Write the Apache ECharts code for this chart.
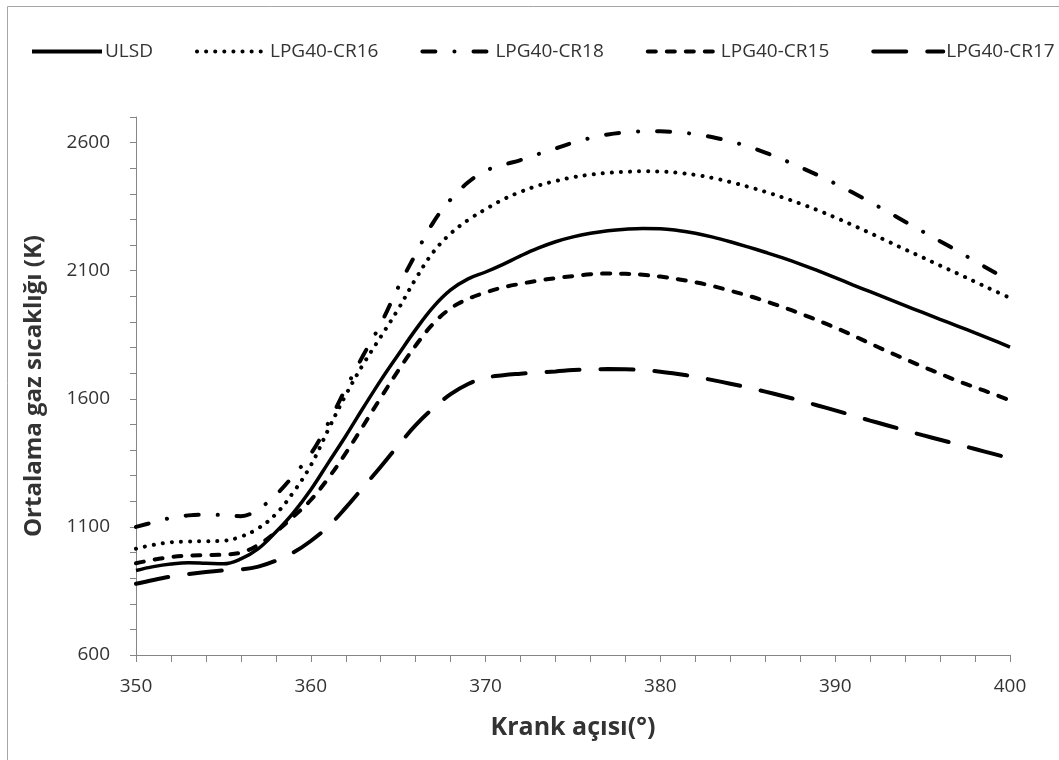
<!DOCTYPE html>
<html>
<head>
<meta charset="utf-8">
<script src="https://cdn.jsdelivr.net/npm/echarts@6/dist/echarts.min.js"></script>
<style>
  html, body { margin: 0; padding: 0; background: #ffffff; }
  #chart { width: 1059px; height: 760px; }
</style>
</head>
<body>
<div id="chart"></div>
<script>
// Crank angle (°CA) sample points
const angles = [350, 351, 352, 353, 354, 355, 356, 357, 358, 359,
                360, 361, 362, 363, 364, 365, 366, 367, 368, 369,
                370, 371, 372, 373, 374, 375, 376, 377, 378, 379,
                380, 381, 382, 383, 384, 385, 386, 387, 388, 389,
                390, 391, 392, 393, 394, 395, 396, 397, 398, 399, 400];

// Mean in-cylinder gas temperature (K)
const ulsd = [930, 945, 955, 960, 958, 956, 975, 1015, 1080, 1155,
              1245, 1350, 1455, 1565, 1672, 1772, 1870, 1958, 2025, 2068,
              2095, 2125, 2158, 2188, 2213, 2232, 2246, 2256, 2262, 2265,
              2264, 2257, 2246, 2231, 2213, 2193, 2172, 2150, 2126, 2100,
              2073, 2045, 2018, 1991, 1964, 1937, 1910, 1884, 1857, 1830, 1802];

const cr16 = [1015, 1030, 1040, 1043, 1044, 1046, 1062, 1095, 1150, 1235,
              1340, 1480, 1615, 1735, 1842, 1950, 2068, 2172, 2245, 2298,
              2340, 2378, 2408, 2432, 2450, 2465, 2475, 2482, 2486, 2488,
              2487, 2482, 2474, 2462, 2446, 2428, 2408, 2386, 2362, 2336,
              2308, 2278, 2247, 2215, 2183, 2152, 2120, 2089, 2057, 2025, 1994];

const cr18 = [1100, 1118, 1135, 1145, 1148, 1146, 1142, 1170, 1225, 1300,
              1385, 1505, 1640, 1770, 1892, 2035, 2165, 2288, 2378, 2445,
              2490, 2513, 2532, 2555, 2577, 2600, 2618, 2632, 2640, 2644,
              2644, 2640, 2633, 2621, 2605, 2585, 2561, 2534, 2504, 2473,
              2440, 2405, 2368, 2330, 2291, 2253, 2215, 2177, 2137, 2098, 2058];

const cr15 = [958, 972, 982, 988, 990, 992, 1000, 1030, 1080, 1140,
              1205, 1290, 1388, 1495, 1604, 1710, 1808, 1893, 1953, 1990,
              2015, 2035, 2049, 2061, 2071, 2079, 2086, 2089, 2088, 2084,
              2077, 2067, 2055, 2040, 2022, 2003, 1981, 1958, 1933, 1906,
              1878, 1848, 1816, 1785, 1755, 1726, 1698, 1670, 1645, 1620, 1594];

const cr17 = [878, 893, 906, 916, 924, 930, 934, 945, 968, 1000,
              1045, 1102, 1175, 1255, 1335, 1418, 1497, 1563, 1618, 1658,
              1682, 1692, 1698, 1703, 1707, 1712, 1715, 1716, 1715, 1712,
              1706, 1697, 1686, 1673, 1659, 1644, 1628, 1611, 1593, 1574,
              1555, 1535, 1515, 1496, 1477, 1458, 1440, 1422, 1404, 1386, 1368];

const seriesNames = ['ULSD', 'LPG40-CR16', 'LPG40-CR18', 'LPG40-CR15', 'LPG40-CR17'];
const yMajorLabels = [600, 1100, 1600, 2100, 2600];
const xMajorLabels = [350, 360, 370, 380, 390, 400];

const FONT = "'Open Sans', 'Noto Sans', sans-serif";
const AXIS_GRAY = '#868686';
const TEXT = '#333333';

function pairs(values) {
  return angles.map((a, i) => [a, values[i]]);
}

// Line patterns: solid, dotted, dash-dot, short dash, long dash
const styles = [
  { width: 3.5, type: 'solid', cap: 'butt' },
  { width: 4, type: [0.1, 9], cap: 'round' },
  { width: 4, type: [13, 19, 0.1, 19], cap: 'round' },
  { width: 4, type: [8, 11], cap: 'round' },
  { width: 4, type: [33, 21], cap: 'round' }
];
const values = [ulsd, cr16, cr18, cr15, cr17];

const chart = echarts.init(document.getElementById('chart'), null, { renderer: 'canvas' });

chart.setOption({
  animation: false,
  backgroundColor: '#ffffff',
  graphic: [{
    type: 'rect',
    shape: { x: 7.5, y: 6.5, width: 1200, height: 900 },
    style: { fill: 'none', stroke: '#a6a6a6', lineWidth: 1 },
    silent: true
  }],
  legend: {
    top: 42,
    left: 30,
    width: 1029,
    padding: 0,
    itemWidth: 70,
    itemHeight: 14,
    itemGap: 42,
    data: seriesNames,
    itemStyle: { opacity: 0 },
    lineStyle: { width: 4 },
    textStyle: { fontFamily: FONT, fontSize: 19, color: TEXT, padding: [0, 0, 0, -2] }
  },
  grid: { left: 136, right: 49, top: 117, bottom: 105 },
  xAxis: {
    type: 'value',
    min: 350,
    max: 400,
    interval: 2,
    name: 'Krank açısı(°)',
    nameLocation: 'middle',
    nameGap: 60,
    nameTextStyle: { fontFamily: FONT, fontSize: 25, fontWeight: 'bold', color: TEXT },
    axisLine: { lineStyle: { color: AXIS_GRAY, width: 1 } },
    axisTick: { show: true, length: 7, inside: false, lineStyle: { color: AXIS_GRAY } },
    axisLabel: {
      margin: 22,
      fontFamily: FONT, fontSize: 19, color: TEXT,
      formatter: v => (xMajorLabels.includes(v) ? String(v) : '')
    },
    splitLine: { show: false }
  },
  yAxis: {
    type: 'value',
    min: 600,
    max: 2700,
    interval: 100,
    name: 'Ortalama gaz sıcaklığı (K)',
    nameLocation: 'middle',
    nameGap: 90,
    nameRotate: 90,
    nameTextStyle: { fontFamily: FONT, fontSize: 24, fontWeight: 'bold', color: TEXT },
    axisLine: { show: true, lineStyle: { color: AXIS_GRAY, width: 1 } },
    axisTick: { show: true, length: 6, inside: false, lineStyle: { color: AXIS_GRAY } },
    axisLabel: {
      margin: 26,
      fontFamily: FONT, fontSize: 19, color: TEXT,
      formatter: v => (yMajorLabels.includes(v) ? String(v) : '')
    },
    splitLine: { show: false }
  },
  series: seriesNames.map((name, i) => ({
    name: name,
    type: 'line',
    data: pairs(values[i]),
    smooth: 0.4,
    showSymbol: false,
    symbol: 'none',
    color: '#000000',
    lineStyle: {
      color: '#000000',
      width: styles[i].width,
      type: styles[i].type,
      cap: styles[i].cap
    },
    emphasis: { disabled: true }
  }))
});
</script>
</body>
</html>
